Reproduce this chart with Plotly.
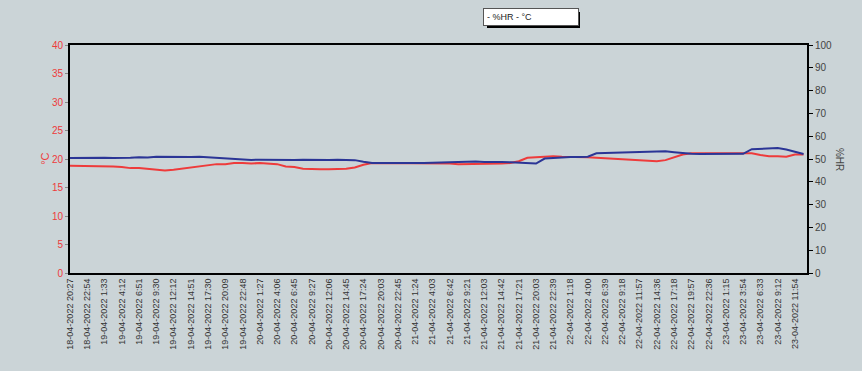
import plotly.graph_objects as go

tick_labels = [
    "18-04-2022 20:27", "18-04-2022 22:54", "19-04-2022 1:33", "19-04-2022 4:12",
    "19-04-2022 6:51", "19-04-2022 9:30", "19-04-2022 12:12", "19-04-2022 14:51",
    "19-04-2022 17:30", "19-04-2022 20:09", "19-04-2022 22:48", "20-04-2022 1:27",
    "20-04-2022 4:06", "20-04-2022 6:45", "20-04-2022 9:27", "20-04-2022 12:06",
    "20-04-2022 14:45", "20-04-2022 17:24", "20-04-2022 20:03", "20-04-2022 22:45",
    "21-04-2022 1:24", "21-04-2022 4:03", "21-04-2022 6:42", "21-04-2022 9:21",
    "21-04-2022 12:03", "21-04-2022 14:42", "21-04-2022 17:21", "21-04-2022 20:03",
    "21-04-2022 22:39", "22-04-2022 1:18", "22-04-2022 4:00", "22-04-2022 6:39",
    "22-04-2022 9:18", "22-04-2022 11:57", "22-04-2022 14:36", "22-04-2022 17:18",
    "22-04-2022 19:57", "22-04-2022 22:36", "23-04-2022 1:15", "23-04-2022 3:54",
    "23-04-2022 6:33", "23-04-2022 9:12", "23-04-2022 11:54",
]

# samples every half label interval
temp_c = [
    18.8, 18.8, 18.7, 18.8, 18.7, 18.7, 18.6, 18.4, 18.4, 18.3,
    18.1, 18.0, 18.1, 18.3, 18.5, 18.7, 19.0, 19.1, 19.1, 19.3,
    19.3, 19.2, 19.3, 19.2, 19.1, 18.7, 18.6, 18.3, 18.2, 18.2,
    18.2, 18.2, 18.3, 18.5, 19.0, 19.3, 19.3, 19.3, 19.3, 19.3,
    19.3, 19.3, 19.3, 19.3, 19.2, 19.1, 19.1, 19.1, 19.1, 19.1,
    19.2, 19.3, 19.6, 20.2, 20.3, 20.5, 20.5, 20.4, 20.4, 20.3,
    20.3, 20.2, 20.1, 20.0, 20.0, 19.9, 19.7, 19.6, 19.6, 19.8,
    20.3, 20.8, 21.0, 21.0, 21.1, 21.0, 21.0, 21.0, 21.1, 21.0,
    20.7, 20.5, 20.5, 20.4, 20.8, 20.8,
]

hum_hr = [
    50.4, 50.5, 50.3, 50.4, 50.5, 50.4, 50.4, 50.6, 50.8, 50.7,
    51.0, 50.9, 51.1, 50.8, 50.9, 51.0, 50.8, 50.5, 50.4, 50.0,
    49.7, 49.6, 49.7, 49.6, 49.6, 49.7, 49.6, 49.7, 49.6, 49.8,
    49.6, 49.7, 49.6, 49.5, 48.8, 48.2, 48.2, 48.3, 48.2, 48.4,
    48.3, 48.3, 48.4, 48.5, 48.7, 48.8, 48.7, 48.9, 48.7, 48.8,
    48.7, 48.6, 48.5, 48.3, 48.0, 50.2, 50.5, 50.8, 50.9, 50.9,
    51.0, 52.5, 52.6, 52.7, 53.0, 53.1, 53.2, 53.4, 53.5, 53.4,
    53.0, 52.6, 52.3, 52.2, 52.2, 52.3, 52.2, 52.2, 52.3, 54.3,
    54.4, 54.6, 54.8, 54.2, 53.1, 52.2,
]

x_idx = [i * 0.5 for i in range(len(temp_c))]

BG = "#cbd4d7"
RED = "#ee3b3b"
BLUE = "#2b3596"

fig = go.Figure()
fig.add_trace(go.Scatter(x=x_idx, y=hum_hr, yaxis="y2", mode="lines",
                         line=dict(color=BLUE, width=2), name="%HR"))
fig.add_trace(go.Scatter(x=x_idx, y=temp_c, mode="lines",
                         line=dict(color=RED, width=2), name="°C"))

fig.update_layout(
    width=862, height=371,
    margin=dict(l=70, r=55, t=45, b=98),
    paper_bgcolor=BG, plot_bgcolor=BG,
    showlegend=False,
    font=dict(family="Liberation Sans, Arial, sans-serif"),
    xaxis=dict(
        range=[0, 42.7], tickmode="array",
        tickvals=list(range(len(tick_labels))), ticktext=tick_labels,
        tickangle=-90, tickfont=dict(size=9, color="#333333"),
        showgrid=False, zeroline=False,
        showline=True, linecolor="black", linewidth=2, mirror=True,
        ticks="", ticklen=0,
    ),
    yaxis=dict(
        range=[0, 40], dtick=5, showgrid=False, zeroline=False,
        tickfont=dict(size=10, color=RED),
        ticks="outside", ticklen=3, tickcolor="#888888",
        showline=True, linecolor="black", linewidth=2,
    ),
    yaxis2=dict(
        range=[0, 100], dtick=10, overlaying="y", side="right",
        showgrid=False, zeroline=False,
        tickfont=dict(size=10, color="#444444"),
        ticks="outside", ticklen=4, tickcolor="black",
        showline=True, linecolor="black", linewidth=2,
    ),
    annotations=[
        dict(text="°C", xref="paper", yref="paper", x=-0.045, y=0.5,
             textangle=-90, showarrow=False, font=dict(size=11, color=RED)),
        dict(text="%HR", xref="paper", yref="paper", x=1.055, y=0.5,
             textangle=90, showarrow=False, font=dict(size=10, color="#444444")),
        dict(text="- %HR - °C", xref="paper", yref="paper",
             x=(483 - 70) / 737, y=(273 - 8) / 228, xanchor="left", yanchor="top",
             showarrow=False, bgcolor="white", bordercolor="#555555", borderwidth=1,
             borderpad=3, width=88, align="left",
             font=dict(size=9, color="#222222")),
    ],
    shapes=[
        dict(type="rect", xref="paper", yref="paper",
             x0=(487 - 70) / 737, x1=(580 - 70) / 737,
             y0=(273 - 28) / 228, y1=(273 - 12) / 228,
             fillcolor="black", line=dict(width=0), layer="above"),
    ],
)

fig.write_html(
    "out.html",
    config={"displayModeBar": False},
    post_script="document.body.style.margin='0';document.body.style.background='%s';" % BG,
)
